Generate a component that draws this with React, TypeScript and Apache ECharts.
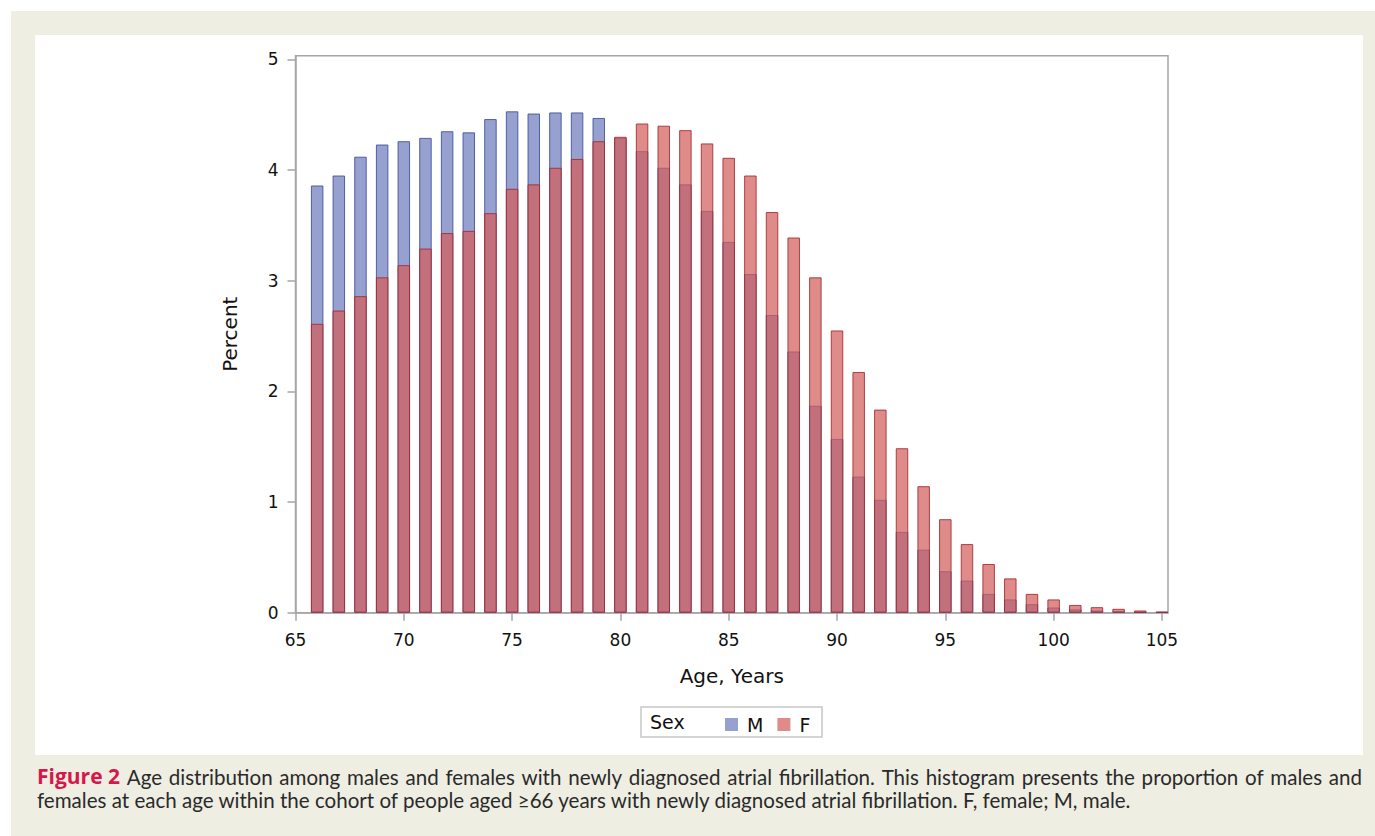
import React, { useEffect, useRef } from "react";
import * as echarts from "echarts";

const ages = [66, 67, 68, 69, 70, 71, 72, 73, 74, 75, 76, 77, 78, 79, 80, 81, 82, 83, 84, 85, 86, 87, 88, 89, 90, 91, 92, 93, 94, 95, 96, 97, 98, 99, 100, 101, 102, 103, 104, 105];
const maleValues = [3.86, 3.95, 4.12, 4.23, 4.26, 4.29, 4.35, 4.34, 4.46, 4.53, 4.51, 4.52, 4.52, 4.47, 4.29, 4.17, 4.02, 3.87, 3.63, 3.35, 3.06, 2.69, 2.36, 1.87, 1.57, 1.23, 1.02, 0.73, 0.57, 0.375, 0.29, 0.17, 0.12, 0.077, 0.047, 0.03, 0.02, 0.012, 0.006, 0.004];
const femaleValues = [2.61, 2.73, 2.86, 3.03, 3.14, 3.29, 3.43, 3.45, 3.61, 3.83, 3.87, 4.02, 4.10, 4.26, 4.30, 4.42, 4.40, 4.36, 4.24, 4.11, 3.95, 3.62, 3.39, 3.03, 2.55, 2.175, 1.835, 1.486, 1.143, 0.845, 0.62, 0.44, 0.31, 0.17, 0.12, 0.07, 0.05, 0.035, 0.02, 0.01];
const xTicks = [65, 70, 75, 80, 85, 90, 95, 100, 105];
const yTicks = [0, 1, 2, 3, 4, 5];
const seriesNames = ["M", "F"];
const legendTitle = "Sex";
const xAxisName = "Age, Years";
const yAxisName = "Percent";
const captionLead = "Figure 2";
const captionLine1 = "Age distribution among males and females with newly diagnosed atrial fibrillation. This histogram presents the proportion of males and";
const captionLine2 = "females at each age within the cohort of people aged \u226566 years with newly diagnosed atrial fibrillation. F, female; M, male.";

const FONT = "DejaVu Sans";
const CAPTION_FONT = "Lato";
const LEAD_FONT = "Open Sans";

function measure(text: string, font: string): number {
  const c = document.createElement("canvas");
  const ctx = c.getContext("2d");
  if (!ctx) return text.length * 8;
  ctx.font = font;
  return ctx.measureText(text).width;
}

export default function App() {
  const ref = useRef<HTMLDivElement>(null);
  useEffect(() => {
    if (!ref.current) return;
    const chart = echarts.init(ref.current, undefined, { renderer: "svg" });
    const axisGray = "#a6a6a6";

    // caption: first line justified, second line natural width
    const capLeft = 37;
    const capRight = 1362;
    const line2Target = 1096;
    const l2base = measure(captionLine2, `20px ${CAPTION_FONT}`);
    const bodySize = Math.min(21.5, Math.max(17, (20 * line2Target) / (l2base || 1096)));
    const leadSize = 21;
    const bodyFont = `${bodySize}px ${CAPTION_FONT}`;
    const leadFont = `bold ${leadSize}px ${LEAD_FONT}`;
    const chunks: { text: string; lead: boolean }[] = [{ text: captionLead, lead: true }].concat(
      captionLine1.split(" ").map((w) => ({ text: w, lead: false }))
    );
    const widths = chunks.map((c) => measure(c.text, c.lead ? leadFont : bodyFont));
    const total = widths.reduce((a, b) => a + b, 0);
    const gap = Math.max(bodySize * 0.22, (capRight - capLeft - total) / (chunks.length - 1));
    let cx = capLeft;
    const captionEls: any[] = chunks.map((c, i) => {
      const el = {
        type: "text",
        z: 5,
        x: cx,
        y: c.lead ? 776 : 777,
        style: {
          text: c.text,
          fontSize: c.lead ? leadSize : bodySize,
          fontWeight: c.lead ? "bold" : "normal",
          fontFamily: c.lead ? LEAD_FONT : CAPTION_FONT,
          fill: c.lead ? "#d6174a" : "#2a2a2a",
          verticalAlign: "middle",
        },
      };
      cx += widths[i] + gap;
      return el;
    });

    chart.setOption({
      animation: false,
      backgroundColor: "#ffffff",
      textStyle: { fontFamily: FONT },
      grid: {
        left: 295.5,
        top: 55.7,
        width: 872.5,
        height: 557,
        show: true,
        borderColor: axisGray,
        borderWidth: 1.5,
        backgroundColor: "transparent",
      },
      xAxis: {
        type: "value",
        min: 65,
        max: 105.28,
        interval: 5,
        name: xAxisName,
        nameLocation: "middle",
        nameGap: 53,
        nameTextStyle: { fontSize: 20, color: "#111", fontFamily: FONT },
        axisLine: { show: true, lineStyle: { color: axisGray, width: 1.5 } },
        axisTick: { show: true, length: 8, customValues: xTicks, lineStyle: { color: axisGray, width: 1.5 } },
        axisLabel: { customValues: xTicks, fontSize: 17, color: "#111", margin: 19, fontFamily: FONT },
        splitLine: { show: false },
      },
      yAxis: {
        type: "value",
        min: 0,
        max: 5.0325,
        interval: 1,
        name: yAxisName,
        nameLocation: "middle",
        nameGap: 56,
        nameRotate: 90,
        nameTextStyle: { fontSize: 20, color: "#111", fontFamily: FONT },
        axisLine: { show: true, lineStyle: { color: axisGray, width: 1.5 } },
        axisTick: { show: true, length: 8, customValues: yTicks, lineStyle: { color: axisGray, width: 1.5 } },
        axisLabel: { customValues: yTicks, fontSize: 17, color: "#111", margin: 17, fontFamily: FONT },
        splitLine: { show: false },
      },
      legend: {
        left: 720,
        top: 710,
        itemWidth: 13,
        itemHeight: 13,
        itemGap: 14,
        icon: "rect",
        data: seriesNames,
        itemStyle: { borderWidth: 0 },
        textStyle: { fontSize: 19, color: "#111", fontFamily: FONT, padding: [0, 0, 0, 4] },
      },
      series: [
        {
          name: seriesNames[0],
          type: "bar",
          barWidth: 12.5,
          barGap: "-100%",
          data: ages.map((a, i) => [a, maleValues[i]]),
          itemStyle: {
            color: "rgba(70,90,170,0.57)",
            borderColor: "rgba(60,75,155,0.85)",
            borderWidth: 1,
          },
        },
        {
          name: seriesNames[1],
          type: "bar",
          barWidth: 12.5,
          barGap: "-100%",
          data: ages.map((a, i) => [a, femaleValues[i]]),
          itemStyle: {
            color: "rgba(211,94,91,0.72)",
            borderColor: "rgba(165,40,45,0.85)",
            borderWidth: 1,
          },
        },
      ],
      graphic: [
        { type: "rect", z: -20, silent: true, shape: { x: 11, y: 11, width: 1364, height: 825 }, style: { fill: "#eeeee2" } },
        { type: "rect", z: -19, silent: true, shape: { x: 35, y: 35, width: 1328, height: 720 }, style: { fill: "#ffffff" } },
        { type: "rect", z: 5, silent: true, shape: { x: 641, y: 707, width: 181, height: 30 }, style: { fill: "none", stroke: "#c8c8c8", lineWidth: 1.5 } },
        { type: "text", z: 5, x: 650, y: 722, style: { text: legendTitle, fontSize: 19, fontFamily: FONT, fill: "#111", verticalAlign: "middle" } },
        ...captionEls,
        {
          type: "text",
          z: 5,
          x: capLeft,
          y: 800,
          style: { text: captionLine2, fontSize: bodySize, fill: "#2a2a2a", fontFamily: CAPTION_FONT, verticalAlign: "middle" },
        },
      ],
    });
    return () => chart.dispose();
  }, []);
  return <div ref={ref} style={{ position: "fixed", left: 0, top: 0, width: 1375, height: 836 }} />;
}
